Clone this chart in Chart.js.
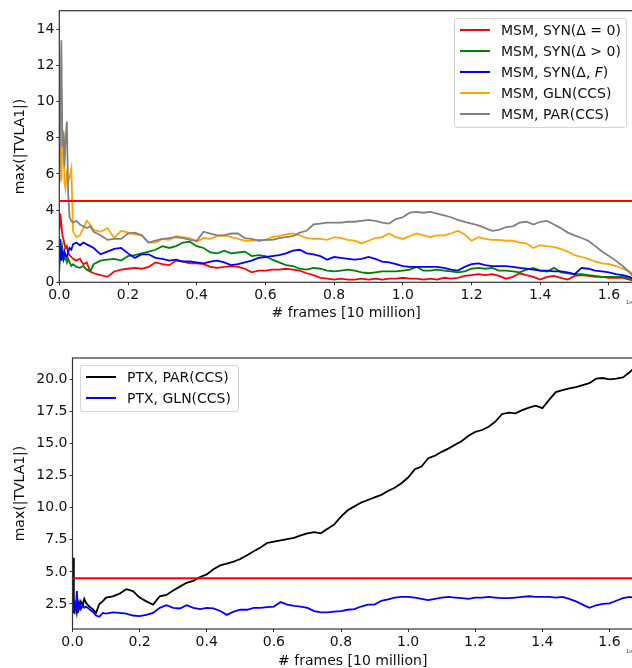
<!DOCTYPE html>
<html>
<head>
<meta charset="utf-8">
<script src="https://cdn.jsdelivr.net/npm/chart.js@4.4.1/dist/chart.umd.min.js"></script>
<style>
html, body { margin: 0; padding: 0; background: #fff; overflow: hidden; width: 632px; height: 668px; }
.wrap { position: absolute; left: 0; }
.legend { position: absolute; border: 1px solid #d4d4d4; border-radius: 3px; background: rgba(255,255,255,0.85);
  font: 14px "DejaVu Sans"; color: #111; box-sizing: border-box; padding-top: 1px; }
.legend .row { display: flex; align-items: center; height: 20.8px; white-space: nowrap; }
.legend .swatch { display: inline-block; width: 30px; height: 0; border-top: 2px solid; margin-left: 5px; margin-right: 11px; }
.offset { position: absolute; font: 5px "DejaVu Sans"; color: #333; }
</style>
</head>
<body>
<div class="wrap" style="top:0"><canvas id="top" width="640" height="330"></canvas></div>
<div class="wrap" style="top:330px"><canvas id="bottom" width="640" height="345"></canvas></div>
<div class="legend" id="legTop" style="left:454px;top:18px;width:173px;height:110px"></div>
<div class="legend" id="legBot" style="left:80px;top:365px;width:159px;height:47px"></div>
<div class="offset" style="left:626px;top:299px">1e7</div>
<div class="offset" style="left:626px;top:648px">1e7</div>
<script>
// ---- data ----
const xMax = 1.67;
const threshold = 4.5;

const xTop = [0, 0.003, 0.006, 0.009, 0.012, 0.015, 0.018, 0.022, 0.026, 0.03, 0.035, 0.04, 0.05, 0.06, 0.07, 0.08, 0.09, 0.1,
  0.12, 0.14, 0.16, 0.18, 0.2, 0.22, 0.24, 0.26, 0.28, 0.3,
  0.32, 0.34, 0.36, 0.38, 0.4, 0.42, 0.44, 0.46, 0.48, 0.5,
  0.52, 0.54, 0.56, 0.58, 0.6, 0.62, 0.64, 0.66, 0.68, 0.7,
  0.72, 0.74, 0.76, 0.78, 0.8, 0.82, 0.84, 0.86, 0.88, 0.9,
  0.92, 0.94, 0.96, 0.98, 1.0, 1.02, 1.04, 1.06, 1.08, 1.1,
  1.12, 1.14, 1.16, 1.18, 1.2, 1.22, 1.24, 1.26, 1.28, 1.3,
  1.32, 1.34, 1.36, 1.38, 1.4, 1.42, 1.44, 1.46, 1.48, 1.5,
  1.52, 1.54, 1.56, 1.58, 1.6, 1.62, 1.64, 1.66, 1.67];

const synZero = [2.9, 3.8, 3.2, 2.6, 2.4, 2.1, 1.9, 2.0, 1.6, 1.5, 1.4, 1.3, 1.2, 1.3, 1.0, 1.1, 0.6, 0.5,
  0.4, 0.3, 0.6, 0.7, 0.75, 0.8, 0.75, 0.85, 1.1, 1.0,
  0.95, 1.2, 1.15, 1.05, 1.05, 1.0, 0.85, 0.8, 0.85, 0.9,
  0.85, 0.75, 0.55, 0.65, 0.65, 0.7, 0.7, 0.75, 0.7, 0.65,
  0.5, 0.4, 0.25, 0.2, 0.15, 0.2, 0.15, 0.15, 0.2, 0.15,
  0.2, 0.15, 0.2, 0.2, 0.25, 0.2, 0.2, 0.15, 0.2, 0.15,
  0.25, 0.2, 0.25, 0.35, 0.4, 0.45, 0.4, 0.45, 0.35, 0.2,
  0.3, 0.5, 0.4, 0.3, 0.15, 0.3, 0.35, 0.25, 0.15, 0.35,
  0.4, 0.35, 0.3, 0.3, 0.25, 0.25, 0.25, 0.15, 0.1];

const synPos = [0.6, 2.3, 1.2, 1.9, 1.5, 1.3, 1.4, 1.1, 1.3, 1.1, 0.9, 1.0, 0.85, 0.8, 0.9, 0.7, 0.6, 1.0,
  1.2, 1.25, 1.3, 1.2, 1.45, 1.5, 1.6, 1.7, 1.8, 2.0,
  1.9, 2.0, 2.2, 2.25, 2.0, 1.9, 1.65, 1.6, 1.75, 1.6,
  1.65, 1.7, 1.45, 1.5, 1.45, 1.25, 1.1, 0.95, 0.9, 0.75,
  0.7, 0.8, 0.75, 0.65, 0.6, 0.65, 0.7, 0.65, 0.55, 0.5,
  0.55, 0.6, 0.6, 0.6, 0.65, 0.7, 0.85, 0.65, 0.65, 0.7,
  0.65, 0.6, 0.55, 0.6, 0.75, 0.8, 0.75, 0.8, 0.65, 0.65,
  0.6, 0.55, 0.7, 0.8, 0.65, 0.6, 0.8, 0.55, 0.5, 0.45,
  0.45, 0.4, 0.35, 0.3, 0.3, 0.3, 0.3, 0.2, 0.1];

const synF = [1.0, 2.4, 1.2, 1.6, 1.3, 1.7, 1.5, 1.4, 1.7, 1.9, 1.8, 2.1, 2.2, 2.05, 2.2, 2.1, 2.0, 1.9,
  1.55, 1.7, 1.85, 1.9, 1.6, 1.35, 1.55, 1.55, 1.35, 1.3,
  1.2, 1.25, 1.15, 1.15, 1.1, 1.05, 1.15, 1.2, 1.1, 0.95,
  1.0, 1.1, 1.2, 1.35, 1.4, 1.45, 1.5, 1.6, 1.75, 1.8,
  1.6, 1.55, 1.45, 1.25, 1.4, 1.35, 1.3, 1.25, 1.3, 1.4,
  1.3, 1.15, 1.1, 1.0, 0.9, 0.85, 0.85, 0.85, 0.85, 0.85,
  0.8, 0.7, 0.65, 0.85, 1.0, 1.05, 0.95, 0.9, 0.9, 0.9,
  0.85, 0.8, 0.75, 0.7, 0.65, 0.65, 0.6, 0.6, 0.55, 0.45,
  0.8, 0.75, 0.65, 0.6, 0.55, 0.45, 0.4, 0.3, 0.2];

const glnMsm = [5.5, 11.3, 5.6, 7.5, 8.4, 5.6, 5.2, 6.0, 5.6, 5.8, 6.3, 2.8, 2.5, 2.6, 3.0, 3.4, 3.2, 2.9,
  2.8, 3.0, 2.45, 2.85, 2.75, 2.65, 2.6, 2.2, 2.2, 2.4,
  2.35, 2.55, 2.5, 2.45, 2.25, 2.45, 2.4, 2.55, 2.6, 2.5,
  2.4, 2.3, 2.3, 2.35, 2.35, 2.5, 2.55, 2.65, 2.7, 2.6,
  2.45, 2.4, 2.4, 2.35, 2.5, 2.45, 2.35, 2.3, 2.15, 2.3,
  2.45, 2.5, 2.7, 2.5, 2.4, 2.55, 2.7, 2.6, 2.5, 2.6,
  2.6, 2.7, 2.85, 2.65, 2.3, 2.5, 2.4, 2.35, 2.35, 2.3,
  2.3, 2.2, 2.15, 1.9, 2.05, 2.0, 1.95, 1.85, 1.7, 1.5,
  1.4, 1.3, 1.15, 1.05, 1.0, 0.9, 0.75, 0.6, 0.45];

const parMsm = [5.5, 9.0, 13.4, 7.5, 8.3, 6.4, 7.8, 8.9, 4.8, 3.6, 3.4, 3.3, 3.4, 3.2, 3.1, 3.0, 3.1, 2.8,
  2.6, 2.35, 2.4, 2.4, 2.7, 2.75, 2.6, 2.2, 2.3, 2.4,
  2.45, 2.5, 2.45, 2.35, 2.3, 2.8, 2.7, 2.6, 2.6, 2.7,
  2.7, 2.45, 2.4, 2.3, 2.35, 2.35, 2.45, 2.5, 2.55, 2.75,
  2.85, 3.2, 3.25, 3.3, 3.3, 3.3, 3.35, 3.35, 3.4, 3.45,
  3.4, 3.3, 3.25, 3.5, 3.6, 3.85, 3.9, 3.85, 3.9, 3.8,
  3.7, 3.6, 3.45, 3.35, 3.25, 3.15, 3.0, 2.85, 2.9, 3.05,
  3.1, 3.3, 3.35, 3.2, 3.35, 3.4, 3.2, 3.0, 2.75, 2.6,
  2.45, 2.3, 2.0, 1.7, 1.45, 1.2, 0.9, 0.55, 0.35];

const xBot = [0, 0.002, 0.004, 0.006, 0.008, 0.01, 0.013, 0.016, 0.02, 0.025, 0.03, 0.035, 0.04, 0.05, 0.06, 0.07, 0.08, 0.09, 0.1,
  0.12, 0.14, 0.16, 0.18, 0.2, 0.22, 0.24, 0.26, 0.28, 0.3,
  0.32, 0.34, 0.36, 0.38, 0.4, 0.42, 0.44, 0.46, 0.48, 0.5,
  0.52, 0.54, 0.56, 0.58, 0.6, 0.62, 0.64, 0.66, 0.68, 0.7,
  0.72, 0.74, 0.76, 0.78, 0.8, 0.82, 0.84, 0.86, 0.88, 0.9,
  0.92, 0.94, 0.96, 0.98, 1.0, 1.02, 1.04, 1.06, 1.08, 1.1,
  1.12, 1.14, 1.16, 1.18, 1.2, 1.22, 1.24, 1.26, 1.28, 1.3,
  1.32, 1.34, 1.36, 1.38, 1.4, 1.42, 1.44, 1.46, 1.48, 1.5,
  1.52, 1.54, 1.56, 1.58, 1.6, 1.62, 1.64, 1.66, 1.67];

const parPtx = [4.5, 6.1, 1.8, 2.8, 2.0, 2.5, 1.9, 2.6, 2.2, 2.7, 2.4, 2.9, 2.6, 2.3, 2.1, 1.8, 2.5, 2.7, 3.0,
  3.1, 3.3, 3.65, 3.5, 3.0, 2.7, 2.45, 3.1, 3.2, 3.55,
  3.85, 4.15, 4.3, 4.6, 4.8, 5.2, 5.5, 5.65, 5.8, 6.0,
  6.3, 6.6, 6.9, 7.25, 7.35, 7.45, 7.55, 7.65, 7.85, 8.0,
  8.1, 8.0, 8.35, 8.7, 9.3, 9.8, 10.1, 10.4, 10.6, 10.8,
  11.0, 11.3, 11.55, 11.9, 12.35, 13.0, 13.2, 13.85, 14.05, 14.35,
  14.6, 14.9, 15.2, 15.6, 15.9, 16.05, 16.3, 16.7, 17.3, 17.4,
  17.35, 17.6, 17.8, 17.95, 17.75, 18.4, 19.0, 19.15, 19.3, 19.4,
  19.55, 19.7, 20.05, 20.1, 20.0, 20.05, 20.15, 20.55, 20.8];

const glnPtx = [5.2, 2.0, 2.8, 1.7, 2.5, 2.0, 3.5, 1.8, 2.6, 2.1, 2.4, 2.2, 2.3, 2.1, 1.9, 1.6, 1.5, 1.8, 1.75,
  1.85, 1.8, 1.75, 1.6, 1.55, 1.65, 1.8, 2.2, 2.4, 2.2,
  2.15, 2.4, 2.2, 2.1, 2.2, 2.15, 1.95, 1.65, 1.9, 2.05,
  2.05, 2.2, 2.2, 2.25, 2.3, 2.65, 2.45, 2.35, 2.3, 2.2,
  1.95, 1.85, 1.85, 1.9, 1.95, 2.05, 2.1, 2.3, 2.45, 2.45,
  2.75, 2.85, 3.0, 3.05, 3.05, 3.0, 2.9, 2.8, 2.9, 3.0,
  3.05, 3.0, 2.95, 2.9, 3.0, 3.0, 3.05, 3.0, 2.95, 2.95,
  3.0, 3.05, 3.1, 3.05, 3.05, 3.05, 3.0, 3.05, 2.9, 2.7,
  2.45, 2.2, 2.4, 2.5, 2.55, 2.75, 2.95, 3.05, 3.0];

const topLabels = ['MSM, SYN(Δ = 0)', 'MSM, SYN(Δ &gt; 0)', 'MSM, SYN(Δ, <i>F</i>)', 'MSM, GLN(CCS)', 'MSM, PAR(CCS)'];
const topColors = ['#ff0000', '#008000', '#0000ff', '#ffa500', '#808080'];
const botLabels = ['PTX, PAR(CCS)', 'PTX, GLN(CCS)'];
const botColors = ['#000000', '#0000ff'];

const xTicks = [0, 0.2, 0.4, 0.6, 0.8, 1.0, 1.2, 1.4, 1.6];
const yTicksTop = [0, 2, 4, 6, 8, 10, 12, 14];
const yTicksBot = [2.5, 5.0, 7.5, 10.0, 12.5, 15.0, 17.5, 20.0];

// ---- helpers ----
const font = { family: "'DejaVu Sans'", size: 14 };
const ink = '#111';

function pts(xs, ys) { return xs.map((x, i) => ({ x: x, y: ys[i] })); }

function lineSets(xs, series, colors) {
  return series.map((s, i) => ({
    data: pts(xs, s), borderColor: colors[i], borderWidth: 1.8,
    pointRadius: 0, tension: 0, order: series.length - i + 1
  }));
}

function thresholdSet() {
  return { data: [{ x: 0, y: threshold }, { x: xMax, y: threshold }], borderColor: '#ff0000',
    borderWidth: 2, pointRadius: 0, order: 0 };
}

const frame = {
  id: 'frame',
  afterDatasetsDraw(chart) {
    const a = chart.chartArea, c = chart.ctx;
    c.save();
    c.strokeStyle = '#333';
    c.lineWidth = 1.2;
    c.strokeRect(a.left, a.top, a.right - a.left, a.bottom - a.top);
    c.restore();
  }
};

function makeChart(id, datasets, o) {
  return new Chart(document.getElementById(id), {
    type: 'line',
    data: { datasets: datasets },
    plugins: [frame],
    options: {
      responsive: false, animation: false, devicePixelRatio: 1,
      layout: { padding: { left: 0, right: 7, top: o.top, bottom: o.bottom } },
      plugins: { legend: { display: false }, tooltip: { enabled: false } },
      scales: {
        x: {
          type: 'linear', min: 0, max: xMax,
          afterBuildTicks: s => { s.ticks = xTicks.map(v => ({ value: v })); },
          afterFit: s => { s.height = o.xh; },
          ticks: { font: font, color: ink, padding: 2, maxRotation: 0, autoSkip: false, callback: v => v.toFixed(1) },
          grid: { drawOnChartArea: false, drawTicks: true, tickLength: 3, color: '#333' },
          border: { display: false },
          title: { display: true, text: '# frames [10 million]', font: font, color: ink, padding: { top: 0, bottom: 0 } }
        },
        y: {
          type: 'linear', min: o.ymin, max: o.ymax,
          afterBuildTicks: s => { s.ticks = o.yticks.map(v => ({ value: v })); },
          afterFit: s => { s.width = o.yw; },
          ticks: { font: font, color: ink, padding: 2, autoSkip: false, callback: o.fmt },
          grid: { drawOnChartArea: false, drawTicks: true, tickLength: 3, color: '#333' },
          border: { display: false },
          title: { display: true, text: 'max(|TVLA1|)', font: font, color: ink, padding: { top: 12.3, bottom: 0 } }
        }
      }
    }
  });
}

function makeLegend(id, labels, colors) {
  const box = document.getElementById(id);
  labels.forEach((l, i) => {
    const row = document.createElement('div');
    row.className = 'row';
    row.innerHTML = '<span class="swatch" style="border-color:' + colors[i] + '"></span><span>' + l + '</span>';
    box.appendChild(row);
  });
}

// ---- charts ----
makeChart('top',
  lineSets(xTop, [synZero, synPos, synF, glnMsm, parMsm], topColors).concat([thresholdSet()]),
  { top: 10.7, bottom: 8.6, xh: 39.1, yw: 59.3, ymin: 0, ymax: 15.03, yticks: yTicksTop, fmt: v => String(v) });

makeChart('bottom',
  lineSets(xBot, [parPtx, glnPtx], botColors).concat([thresholdSet()]),
  { top: 28, bottom: 4.9, xh: 41.1, yw: 72.5, ymin: 0.55, ymax: 21.66, yticks: yTicksBot, fmt: v => v.toFixed(1) });

makeLegend('legTop', topLabels, topColors);
makeLegend('legBot', botLabels, botColors);
</script>
</body>
</html>
